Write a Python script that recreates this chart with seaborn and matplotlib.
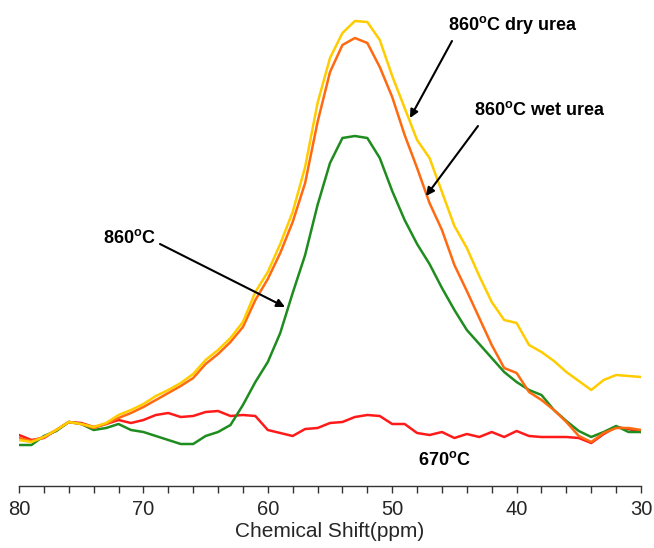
import numpy as np
import pandas as pd
import matplotlib
matplotlib.use("Agg")
import matplotlib.pyplot as plt
import seaborn as sns

# Chemical shift axis (ppm), 80 -> 30
ppm = list(range(80, 29, -1))

dry_urea = [50, 48, 53, 60, 68, 66, 63, 67, 75, 80, 86, 94, 100, 107, 116, 130, 140, 152, 168, 198,
            218, 246, 278, 323, 387, 432, 457, 469, 468, 450, 414, 382, 350, 332, 298, 264, 242, 214, 188, 170,
            167, 145, 138, 129, 118, 109, 100, 110, 115, 114, 113]
wet_urea = [52, 49, 53, 60, 68, 66, 62, 66, 72, 77, 83, 90, 97, 104, 112, 126, 136, 148, 163, 190,
            211, 237, 268, 307, 368, 418, 445, 452, 447, 423, 393, 355, 322, 287, 260, 225, 199, 172, 145, 122,
            117, 98, 90, 80, 68, 54, 48, 57, 62, 62, 60]
t860 = [45, 45, 54, 59, 68, 66, 60, 62, 66, 60, 58, 54, 50, 46, 46, 54, 58, 65, 85, 108,
        128, 157, 197, 235, 285, 327, 352, 354, 352, 332, 299, 270, 246, 226, 202, 180, 160, 146, 132, 118,
        108, 100, 95, 80, 69, 59, 53, 58, 64, 58, 58]
t670 = [55, 50, 52, 60, 68, 67, 63, 66, 70, 67, 70, 75, 77, 73, 74, 78, 79, 74, 75, 74,
        60, 57, 54, 61, 62, 67, 68, 73, 75, 74, 66, 66, 57, 55, 58, 52, 56, 53, 58, 53,
        59, 54, 53, 53, 53, 52, 47, 56, 63, 61, 58]

series = ["670oC", "860oC", "860oC wet urea", "860oC dry urea"]
values = [t670, t860, wet_urea, dry_urea]
colors = ["#FF1A1A", "#1E8C1E", "#FF6A10", "#FFCC00"]

df = pd.concat([pd.DataFrame({"ppm": ppm, "intensity": v, "sample": s})
                for s, v in zip(series, values)], ignore_index=True)

sns.set_theme(style="white")
plt.rcParams["font.family"] = ["Liberation Sans", "DejaVu Sans"]
plt.rcParams["mathtext.fontset"] = "custom"
plt.rcParams["mathtext.rm"] = "Liberation Sans:bold"

fig = plt.figure(figsize=(6.54, 5.48), dpi=100)
ax = fig.add_axes([19 / 654, 62 / 548, 622 / 654, 486 / 548])

sns.lineplot(data=df, x="ppm", y="intensity", hue="sample", hue_order=series,
             palette=dict(zip(series, colors)), linewidth=1.8, ax=ax, legend=False,
             sort=False, estimator=None)

ax.set_xlim(80, 30)
ax.set_ylim(4, 490)
ax.set_xticks([80, 70, 60, 50, 40, 30])
ax.set_xticks(np.arange(30, 81, 2), minor=True)
ax.tick_params(axis="x", which="both", direction="out", length=5, width=1,
               color="#333333", bottom=True, labelsize=14.5, pad=5)
ax.set_yticks([])
for s in ["top", "right", "left"]:
    ax.spines[s].set_visible(False)
ax.spines["bottom"].set_color("#333333")
ax.spines["bottom"].set_linewidth(1)
ax.set_xlabel("Chemical Shift(ppm)", fontsize=15, labelpad=2)
ax.set_ylabel("")

def px(x, y):
    # convert pixel position of the reference image to data coordinates
    return ax.transData.inverted().transform(fig.transFigure.transform((x / 654, 1 - y / 548)))

sup = r"$^\mathregular{o}$"
tstyle = dict(fontsize=13, fontweight="bold", color="black")
arrow = dict(arrowstyle="-|>", color="black", lw=1.5, mutation_scale=12, shrinkA=0, shrinkB=0)

ax.annotate("860" + sup + "C dry urea", xy=px(448, 25), ha="left", va="center", **tstyle)
ax.annotate("", xy=px(410, 118), xytext=px(452, 41), arrowprops=arrow)
ax.annotate("860" + sup + "C wet urea", xy=px(474, 110), ha="left", va="center", **tstyle)
ax.annotate("", xy=px(426, 196), xytext=px(478, 126), arrowprops=arrow)
ax.annotate("860" + sup + "C", xy=px(103, 238), ha="left", va="center", **tstyle)
ax.annotate("", xy=px(285, 307), xytext=px(160, 244), arrowprops=arrow)
ax.annotate("670" + sup + "C", xy=px(418, 460), ha="left", va="center", **tstyle)

fig.savefig("out.png", dpi=100)
